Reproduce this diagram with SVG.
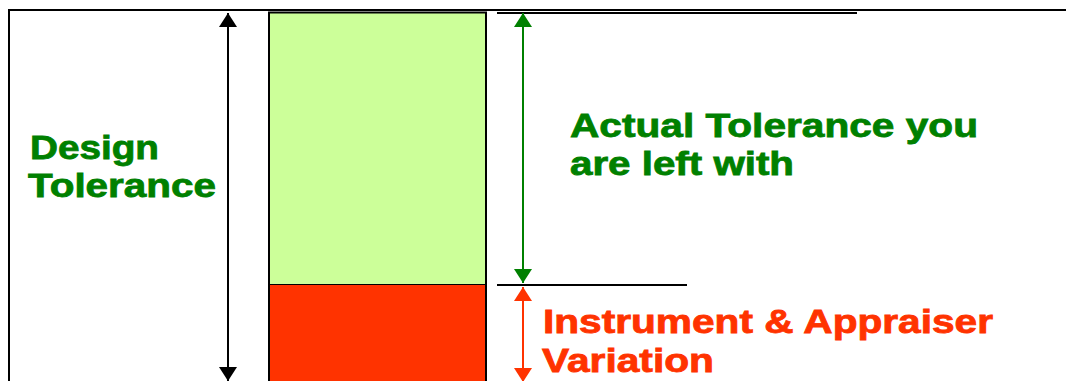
<svg xmlns="http://www.w3.org/2000/svg" width="1066" height="381" viewBox="0 0 1066 381">
  <style>
    .lbl { font-family: "Liberation Sans", Arial, sans-serif; font-weight: bold; font-size: 33px; stroke-width: 0.8px; }
    .green { fill: #008000; stroke: #008000; }
    .red { fill: #FF3300; stroke: #FF3300; }
    .rule { stroke: #000; stroke-width: 2; fill: none; }
  </style>
  <defs>
    <marker id="ahBlack" viewBox="0 0 14 18" refX="14" refY="9" markerWidth="14" markerHeight="18" markerUnits="userSpaceOnUse" orient="auto-start-reverse">
      <path d="M0,0 L14,9 L0,18 z" fill="#000"/>
    </marker>
    <marker id="ahGreen" viewBox="0 0 14 18" refX="14" refY="9" markerWidth="14" markerHeight="18" markerUnits="userSpaceOnUse" orient="auto-start-reverse">
      <path d="M0,0 L14,9 L0,18 z" fill="#008000"/>
    </marker>
    <marker id="ahRed" viewBox="0 0 14 18" refX="14" refY="9" markerWidth="14" markerHeight="18" markerUnits="userSpaceOnUse" orient="auto-start-reverse">
      <path d="M0,0 L14,9 L0,18 z" fill="#FF3300"/>
    </marker>
  </defs>
  <rect width="1066" height="381" fill="#fff"/>

  <g id="frame">
    <line class="rule" x1="8" y1="10" x2="1066" y2="10"/>
    <line class="rule" x1="9" y1="9" x2="9" y2="381"/>
  </g>

  <g id="bar">
    <rect x="269" y="13" width="217" height="271" fill="#CCFF99"/>
    <rect x="269" y="284" width="217" height="100" fill="#FF3300"/>
    <line x1="269" y1="284.5" x2="486" y2="284.5" stroke="#000" stroke-width="1"/>
    <rect x="269" y="12.5" width="217" height="372" fill="none" stroke="#000" stroke-width="2"/>
  </g>

  <g id="reference-lines">
    <line class="rule" x1="497" y1="13" x2="857" y2="13"/>
    <line class="rule" x1="497" y1="285" x2="687" y2="285"/>
  </g>

  <g id="connectors">
    <line x1="228" y1="13" x2="228" y2="381" stroke="#000" stroke-width="2" marker-start="url(#ahBlack)" marker-end="url(#ahBlack)"/>
    <line x1="523" y1="13" x2="523" y2="283" stroke="#008000" stroke-width="2" marker-start="url(#ahGreen)" marker-end="url(#ahGreen)"/>
    <line x1="523" y1="287" x2="523" y2="382" stroke="#FF3300" stroke-width="2" marker-start="url(#ahRed)" marker-end="url(#ahRed)"/>
  </g>

  <g id="design-tolerance">
    <text class="lbl green" x="30" y="159" textLength="129" lengthAdjust="spacingAndGlyphs">Design</text>
    <text class="lbl green" x="28" y="197" textLength="188" lengthAdjust="spacingAndGlyphs">Tolerance</text>
  </g>

  <g id="actual-tolerance">
    <text class="lbl green" x="570" y="137" textLength="408" lengthAdjust="spacingAndGlyphs">Actual Tolerance you</text>
    <text class="lbl green" x="570" y="175" textLength="224" lengthAdjust="spacingAndGlyphs">are left with</text>
  </g>

  <g id="instrument-variation">
    <text class="lbl red" x="543" y="333" textLength="450" lengthAdjust="spacingAndGlyphs">Instrument &amp; Appraiser</text>
    <text class="lbl red" x="542" y="372" textLength="172" lengthAdjust="spacingAndGlyphs">Variation</text>
  </g>
</svg>
